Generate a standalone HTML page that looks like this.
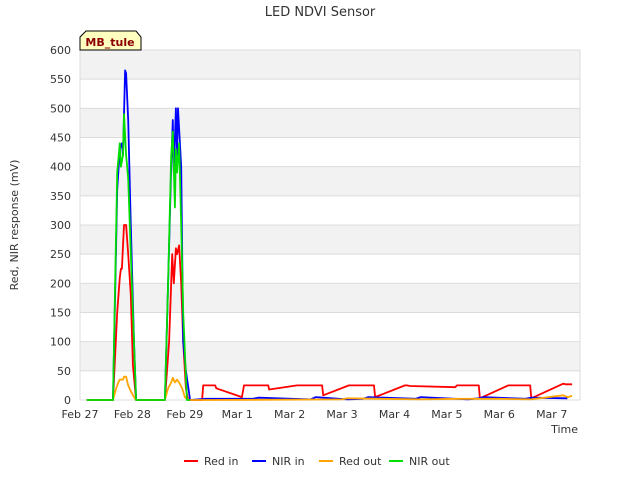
<!DOCTYPE html>
<html><head><meta charset="utf-8"><style>
body{margin:0;background:#fff;font-family:"Liberation Sans","DejaVu Sans",sans-serif}
svg text{font-family:"DejaVu Sans","Liberation Sans",sans-serif}
</style></head><body>
<svg id="chart" width="640" height="480">
<text x="320" y="16" text-anchor="middle" font-size="13" fill="#333">LED NDVI Sensor</text>
<g id="grid"></g><g id="series"></g><g id="axes"></g>
<text x="18" y="225" transform="rotate(-90 18 225)" text-anchor="middle" font-size="11" fill="#333">Red, NIR response (mV)</text>
<text x="578" y="433" text-anchor="end" font-size="11" fill="#333">Time</text>
<g>
<path d="M80,50 L80,37 L86,31 L136,31 L141,37 L141,50 Z" fill="#ffffc0" stroke="#000" stroke-width="1"/>
<text x="110" y="46" text-anchor="middle" font-size="11" font-weight="bold" fill="#8b0000">MB_tule</text>
</g>
<g id="legend"></g>
</svg>
<script>
const xTicks=[0,1,2,3,4,5,6,7,8,9];
const xTickLabels=["Feb 27","Feb 28","Feb 29","Mar 1","Mar 2","Mar 3","Mar 4","Mar 5","Mar 6","Mar 7"];
const yTicks=[0,50,100,150,200,250,300,350,400,450,500,550,600];
const seriesNames=["Red in","NIR in","Red out","NIR out"];
const seriesColors=["#ff0000","#0000ff","#ffa500","#00dd00"];
const redT=[0.13,0.63,0.71,0.76,0.78,0.80,0.84,0.88,0.92,0.97,1.01,1.07,1.62,1.70,1.76,1.79,1.83,1.85,1.89,1.93,1.97,2.02,2.06,2.33,2.35,2.58,2.60,3.09,3.13,3.59,3.61,4.14,4.62,4.64,5.13,5.61,5.63,6.20,6.24,6.30,7.16,7.19,7.61,7.63,8.17,8.59,8.61,9.22,9.27,9.39];
const redV=[0,0,150,210,225,225,300,300,250,180,60,0,0,100,250,200,260,250,265,200,100,20,0,0,25,25,20,5,25,25,18,25,25,8,25,25,5,25,25,24,22,25,25,3,25,25,3,28,27,27];
const nirT=[0.13,0.63,0.71,0.76,0.80,0.82,0.86,0.88,0.92,0.97,1.03,1.07,1.62,1.68,1.74,1.77,1.79,1.83,1.85,1.87,1.93,1.97,2.02,2.10,2.40,3.30,3.40,4.40,4.50,5.10,5.40,5.50,6.40,6.50,7.40,7.60,7.70,8.50,8.60,9.30];
const nirV=[0,0,360,430,440,420,565,560,480,300,100,0,0,200,400,480,390,500,420,500,400,100,50,0,2,2,4,1,5,1,2,5,2,5,1,3,5,2,4,3];
const redOutT=[0.13,0.63,0.69,0.73,0.76,0.82,0.84,0.88,0.92,0.97,1.03,1.07,1.62,1.68,1.74,1.77,1.81,1.85,1.89,1.95,2.00,2.06,2.50,5.00,5.10,6.50,7.20,8.00,8.60,9.22,9.30,9.39];
const redOutV=[0,0,20,30,35,35,40,40,25,15,5,0,0,20,30,38,30,35,30,20,5,0,0,1,3,1,2,2,1,8,5,7];
const nirOutT=[0.13,0.63,0.71,0.76,0.78,0.82,0.84,0.88,0.92,0.95,1.01,1.07,1.62,1.68,1.74,1.77,1.81,1.83,1.85,1.89,1.93,1.97,2.04,2.10];
const nirOutV=[0,0,390,440,400,420,490,420,380,300,150,0,0,200,420,460,330,430,390,440,300,150,0,0];
const X0=80,X1=580,Y0=400,Y1=50,T0=0,T1=9.54,V1=600;
const xs=t=>X0+(t-T0)/(T1-T0)*(X1-X0);
const ys=v=>Y0-v/V1*(Y0-Y1);
const NS="http://www.w3.org/2000/svg";
function mk(tag,attrs,parent){const e=document.createElementNS(NS,tag);for(const k in attrs)e.setAttribute(k,attrs[k]);parent.appendChild(e);return e;}
const grid=document.getElementById('grid'),axes=document.getElementById('axes'),ser=document.getElementById('series'),leg=document.getElementById('legend');
for(let i=0;i<yTicks.length-1;i++){
 if(i%2===1){const b=mk('rect',{x:X0,y:ys(yTicks[i+1]),width:X1-X0,height:ys(yTicks[i])-ys(yTicks[i+1]),fill:'#f2f2f2'},grid);
 
 }
}
yTicks.forEach(v=>{
 const l=mk('line',{x1:X0,x2:X1,y1:ys(v),y2:ys(v),stroke:'#dcdcdc'},grid);
 
 
 const t=mk('text',{x:X0-9,y:ys(v)+4,'text-anchor':'end','font-size':11,fill:'#333'},axes);
 t.textContent=v;
 
 
});
const fr=mk('rect',{x:X0,y:Y1,width:X1-X0,height:Y0-Y1,fill:'none',stroke:'#dcdcdc'},grid);


xTicks.forEach((d,i)=>{
 const t=mk('text',{x:xs(d),y:Y0+18,'text-anchor':'middle','font-size':11,fill:'#333'},axes);
 t.textContent=xTickLabels[i];
 
 
});
const data=[[redT,redV],[nirT,nirV],[redOutT,redOutV],[nirOutT,nirOutV]];
const order=[0,1,2,3];
order.forEach(i=>{
 const [T,V]=data[i];
 const p=mk('polyline',{points:T.map((t,j)=>xs(t).toFixed(1)+','+ys(V[j]).toFixed(1)).join(' '),fill:'none',stroke:seriesColors[i],'stroke-width':1.8,'stroke-linejoin':'round'},ser);
 
 
});
const lx=[184,252,319,389];
seriesNames.forEach((n,i)=>{
 const g=mk('g',{},leg);
 
 
 mk('line',{x1:lx[i],x2:lx[i]+14,y1:461,y2:461,stroke:seriesColors[i],'stroke-width':2},g);
 const t=mk('text',{x:lx[i]+20,y:465,'font-size':11,fill:'#333'},g);
 t.textContent=n;
});
</script>
</body></html>
